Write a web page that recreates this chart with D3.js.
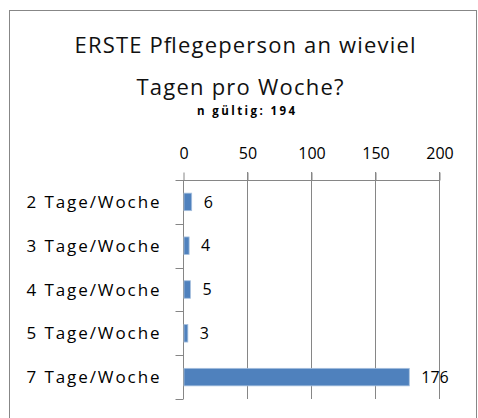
<!DOCTYPE html>
<html>
<head>
<meta charset="utf-8">
<script src="https://cdn.jsdelivr.net/npm/d3@7"></script>
<style>
  body { margin: 0; background: #fff; }
  text { font-family: "Open Sans", sans-serif; fill: #000; }
</style>
</head>
<body>
<div id="chart"></div>
<script>
// data
const categories = ["2 Tage/Woche", "3 Tage/Woche", "4 Tage/Woche", "5 Tage/Woche", "7 Tage/Woche"];
const values = [6, 4, 5, 3, 176];
const xTicks = [0, 50, 100, 150, 200];
const titleLines = ["ERSTE Pflegeperson an wieviel", "Tagen pro Woche?"];
const subtitle = "n gültig: 194";

const width = 478, height = 418;
const margin = {top: 180, left: 183, right: 39, bottom: 19};

const svg = d3.select("#chart")
    .append("svg")
    .attr("width", width)
    .attr("height", height);

// outer chart border
svg.append("rect")
    .attr("x", 9.5)
    .attr("y", 10.5)
    .attr("width", 467)
    .attr("height", 420)
    .attr("fill", "none")
    .attr("stroke", "#878787")
    .attr("stroke-width", 1);

// title (widths stretched a bit to match the wide original font)
const titleWidths = [341, 207];
const titleCenters = [245, 240];
svg.selectAll("text.title")
    .data(titleLines)
    .join("text")
    .attr("class", "title")
    .attr("x", (d, i) => titleCenters[i])
    .attr("y", (d, i) => 53 + i * 42)
    .attr("text-anchor", "middle")
    .attr("textLength", (d, i) => titleWidths[i])
    .attr("lengthAdjust", "spacing")
    .style("font-size", "22px")
    .style("fill", "#111")
    .text(d => d);

svg.append("text")
    .attr("x", 246)
    .attr("y", 115)
    .attr("text-anchor", "middle")
    .attr("textLength", 98)
    .attr("lengthAdjust", "spacing")
    .style("font-size", "11.5px")
    .style("font-weight", "bold")
    .text(subtitle);

const x = d3.scaleLinear()
    .domain([0, 200])
    .range([margin.left, width - margin.right]);

const y = d3.scaleBand()
    .domain(categories)
    .range([margin.top, height - margin.bottom])
    .paddingInner(0.6)
    .paddingOuter(0.3);

const bandY = d3.scaleBand()
    .domain(categories)
    .range([margin.top, height - margin.bottom]);

// gridlines
svg.append("g")
    .selectAll("line")
    .data(xTicks.slice(1))
    .join("line")
    .attr("x1", d => Math.round(x(d)) + 0.5)
    .attr("x2", d => Math.round(x(d)) + 0.5)
    .attr("y1", margin.top - 8)
    .attr("y2", height - margin.bottom)
    .attr("stroke", "#868686");

// top axis
const xAxis = svg.append("g")
    .attr("transform", `translate(0.5,${margin.top + 0.5})`)
    .call(d3.axisTop(x).tickValues(xTicks).tickSize(8).tickPadding(14));
xAxis.select(".domain").attr("stroke", "#868686").attr("d", `M${margin.left - 8},0H${x(200)}`);
xAxis.selectAll(".tick line").attr("stroke", "#868686");
xAxis.selectAll(".tick text")
    .style("font-size", "16px")
    .attr("fill", "#000");

// left axis: category separators
const yAxisG = svg.append("g")
    .attr("transform", `translate(${margin.left + 0.5},0)`);
yAxisG.append("line")
    .attr("y1", margin.top)
    .attr("y2", height - margin.bottom)
    .attr("stroke", "#868686");
yAxisG.selectAll("line.sep")
    .data(categories)
    .join("line")
    .attr("class", "sep")
    .attr("x1", -8)
    .attr("x2", 0)
    .attr("y1", d => Math.round(bandY(d) + bandY.bandwidth()) + 0.5)
    .attr("y2", d => Math.round(bandY(d) + bandY.bandwidth()) + 0.5)
    .attr("stroke", "#868686");

yAxisG.selectAll("text")
    .data(categories)
    .join("text")
    .attr("x", -24)
    .attr("y", d => bandY(d) + bandY.bandwidth() / 2)
    .attr("dy", "0.36em")
    .attr("text-anchor", "end")
    .attr("textLength", 133)
    .attr("lengthAdjust", "spacing")
    .style("font-size", "17px")
    .text(d => d);

// bars
svg.append("g")
    .selectAll("rect")
    .data(values)
    .join("rect")
    .attr("x", x(0) + 1)
    .attr("y", (d, i) => y(categories[i]))
    .attr("width", d => x(d) - x(0))
    .attr("height", y.bandwidth())
    .attr("fill", "#4f81bd")
    .attr("stroke", "#a7c0de")
    .attr("stroke-width", 0.8);

// value labels
svg.append("g")
    .selectAll("text")
    .data(values)
    .join("text")
    .attr("x", d => x(d) + 13)
    .attr("y", (d, i) => y(categories[i]) + y.bandwidth() / 2)
    .attr("dy", "0.36em")
    .style("font-size", "16px")
    .text(d => d);
</script>
</body>
</html>
